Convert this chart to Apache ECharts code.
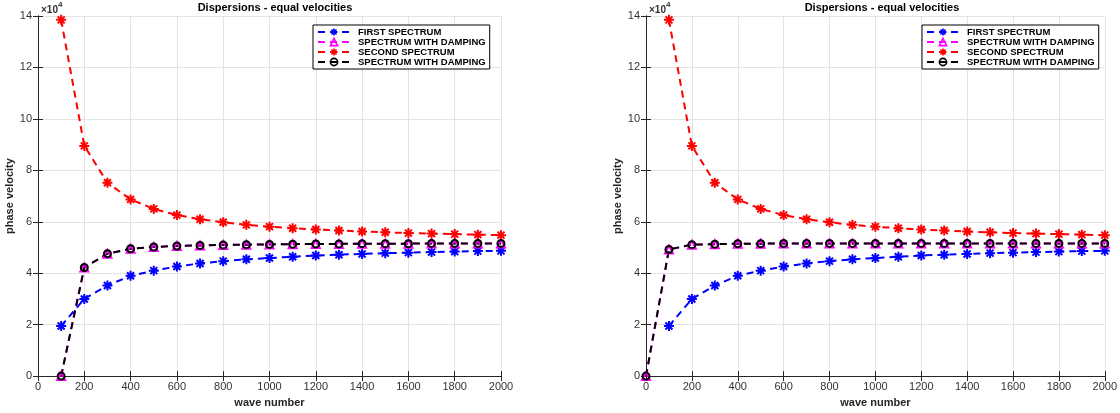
<!DOCTYPE html>
<html>
<head>
<meta charset="utf-8">
<script src="https://cdn.jsdelivr.net/npm/echarts@6/dist/echarts.min.js"></script>
<style>
  html, body { margin: 0; padding: 0; background: #fff; }
  #chart { width: 1120px; height: 413px; }
</style>
</head>
<body>
<div id="chart"></div>
<script>
// wave numbers (left panel starts at 100, right panel at 0)
const waveLeft = [100, 200, 300, 400, 500, 600, 700, 800, 900, 1000, 1100, 1200, 1300, 1400, 1500, 1600, 1700, 1800, 1900, 2000]
const waveRight = [0, 100, 200, 300, 400, 500, 600, 700, 800, 900, 1000, 1100, 1200, 1300, 1400, 1500, 1600, 1700, 1800, 1900, 2000]

// left panel values
const firstLeft = [19500, 30000, 35200, 39000, 41000, 42600, 43800, 44700, 45400, 45900, 46400, 46900, 47200, 47500, 47800, 48000, 48200, 48400, 48600, 48700]
const dampLeft = [0, 42200, 47600, 49500, 50200, 50600, 50800, 51000, 51100, 51200, 51300, 51400, 51400, 51500, 51500, 51500, 51600, 51600, 51600, 51600]
const secondLeft = [138500, 89500, 75200, 68700, 65000, 62600, 61000, 59800, 58800, 58100, 57500, 57000, 56600, 56200, 55900, 55600, 55400, 55200, 55000, 54800]

// right panel values (null = no point at wave number 0)
const firstRight = [null, 19500, 30000, 35200, 39000, 41000, 42600, 43800, 44700, 45400, 45900, 46400, 46900, 47200, 47500, 47800, 48000, 48200, 48400, 48600, 48700]
const dampRight = [0, 49200, 51100, 51300, 51500, 51500, 51600, 51600, 51600, 51600, 51600, 51600, 51600, 51600, 51600, 51600, 51600, 51600, 51600, 51600, 51600]
const secondRight = [null, 138500, 89500, 75200, 68700, 65000, 62600, 61000, 59800, 58800, 58100, 57500, 57000, 56600, 56200, 55900, 55600, 55400, 55200, 55000, 54800]

const legendNames = ['FIRST SPECTRUM', 'SPECTRUM WITH DAMPING#m', 'SECOND SPECTRUM', 'SPECTRUM WITH DAMPING#k']

const FONT = 'Liberation Sans'
const STAR = 'path://M5,0L5,10M0,5L10,5M1.5,1.5L8.5,8.5M1.5,8.5L8.5,1.5'
const DASH = [7, 5]

const chart = echarts.init(document.getElementById('chart'))

const pairs = (xs, ys) => xs.map((x, i) => [x, ys[i]])

function lineSeries(name, xi, data, color, symbol, size, fill) {
  return {
    type: 'line',
    name: name,
    xAxisIndex: xi,
    yAxisIndex: xi,
    data: data,
    symbol: symbol,
    symbolSize: size,
    showSymbol: true,
    connectNulls: false,
    lineStyle: { color: color, width: 2, type: DASH },
    itemStyle: { color: fill, borderColor: color, borderWidth: 2 },
    emphasis: { disabled: true },
    z: 2
  }
}

function panelSeries(xi, xs, first, damp, second) {
  return [
    lineSeries(legendNames[0], xi, pairs(xs, first), '#0000ff', STAR, 10, 'rgba(0,0,0,0)'),
    lineSeries(legendNames[1], xi, pairs(xs, damp), '#ff00ff', 'triangle', 8, 'rgba(0,0,0,0)'),
    lineSeries(legendNames[2], xi, pairs(xs, second), '#ff0000', STAR, 10, 'rgba(0,0,0,0)'),
    lineSeries(legendNames[3], xi, pairs(xs, damp), '#000000', 'circle', 7, 'rgba(255,255,255,0)')
  ]
}

const grids = [
  { left: 38, right: 619, top: 16, bottom: 31 },
  { left: 646, right: 12, top: 16, bottom: 31 }
]

const axisCommon = {
  axisLine: { show: true, lineStyle: { color: '#262626', width: 1 } },
  axisTick: { show: true, inside: true, length: 5, lineStyle: { color: '#262626' } },
  axisLabel: { color: '#333', fontFamily: FONT, fontSize: 11 },
  nameTextStyle: { color: '#262626', fontFamily: FONT, fontSize: 11, fontWeight: 'bold' }
}

function xAxes(g) {
  return [
    Object.assign({}, axisCommon, {
      type: 'value', gridIndex: g, min: 0, max: 2000, interval: 200, position: 'bottom',
      name: 'wave number', nameLocation: 'middle', nameGap: 17,
      axisLabel: Object.assign({}, axisCommon.axisLabel, { margin: 5, formatter: v => String(v) }),
      splitLine: { show: true, lineStyle: { color: '#e3e3e3', width: 1 } }
    }),
    Object.assign({}, axisCommon, {
      type: 'value', gridIndex: g, min: 0, max: 2000, interval: 200, position: 'top',
      axisLabel: { show: false }, splitLine: { show: false }
    })
  ]
}

function yAxes(g) {
  return [
    Object.assign({}, axisCommon, {
      type: 'value', gridIndex: g, min: 0, max: 140000, interval: 20000, position: 'left',
      name: 'phase velocity', nameLocation: 'middle', nameGap: 18,
      axisLabel: Object.assign({}, axisCommon.axisLabel, { margin: 6, formatter: v => String(v / 10000) }),
      splitLine: { show: true, lineStyle: { color: '#e3e3e3', width: 1 } }
    }),
    Object.assign({}, axisCommon, {
      type: 'value', gridIndex: g, min: 0, max: 140000, interval: 20000, position: 'right',
      axisLabel: { show: false }, splitLine: { show: false }
    })
  ]
}

function legend(left) {
  return {
    orient: 'vertical',
    left: left,
    top: 25,
    data: legendNames,
    formatter: n => n.split('#')[0],
    itemWidth: 32,
    itemHeight: 9,
    itemGap: 0,
    padding: [2, 4, 2, 4],
    borderColor: '#000',
    borderWidth: 1,
    backgroundColor: '#fff',
    selectedMode: false,
    itemStyle: { borderWidth: 1.6 },
    textStyle: { fontFamily: FONT, fontSize: 9.5, fontWeight: 'bold', color: '#000', lineHeight: 9, padding: [0, 0, 0, 3] }
  }
}

function titles(center, axisLeft) {
  return [
    {
      text: 'Dispersions - equal velocities',
      left: center, top: -3, textAlign: 'center',
      textStyle: { fontFamily: FONT, fontSize: 11, fontWeight: 'bold', color: '#000' }
    },
    {
      text: '{a|×10}{b|4}',
      left: axisLeft, top: -4,
      textStyle: {
        rich: {
          a: { fontFamily: FONT, fontSize: 10, color: '#333', padding: [4, 0, 0, 0] },
          b: { fontFamily: FONT, fontSize: 8, color: '#333', verticalAlign: 'top' }
        }
      }
    }
  ]
}

chart.setOption({
  animation: false,
  textStyle: { fontFamily: FONT },
  title: titles(270, 36).concat(titles(877, 644)),
  legend: [legend(313), legend(922)],
  grid: grids,
  xAxis: xAxes(0).concat(xAxes(1)),
  yAxis: yAxes(0).concat(yAxes(1)),
  series: panelSeries(0, waveLeft, firstLeft, dampLeft, secondLeft)
    .concat(panelSeries(2, waveRight, firstRight, dampRight, secondRight))
})
</script>
</body>
</html>
